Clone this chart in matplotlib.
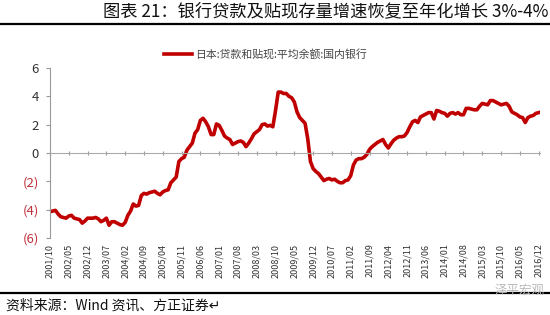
import matplotlib.pyplot as plt

plt.rcParams['font.family'] = ['Noto Sans CJK SC', 'DejaVu Sans']

# 日本:贷款和贴现:平均余额:国内银行, 同比(%), 2001/10 - 2016/12 月度
start = (2001, 10)
vals_2001 = [-4.14, -4.1, -4.05]
vals_2002 = [-4.3, -4.5, -4.55, -4.6, -4.45, -4.4, -4.6, -4.65, -4.7, -4.95, -4.8, -4.6]
vals_2003 = [-4.6, -4.6, -4.55, -4.65, -4.85, -4.75, -4.6, -5.1, -4.85, -4.85, -4.95, -5.05]
vals_2004 = [-5.1, -4.9, -4.4, -4.1, -3.6, -3.75, -3.7, -3.0, -2.85, -2.9, -2.8, -2.75]
vals_2005 = [-2.7, -2.85, -2.95, -2.75, -2.65, -2.6, -2.1, -1.9, -1.7, -0.6, -0.4, -0.3]
vals_2006 = [0.2, 0.45, 0.7, 1.4, 1.65, 2.3, 2.45, 2.2, 1.85, 1.3, 1.3, 2.05]
vals_2007 = [1.95, 1.6, 1.2, 1.05, 0.95, 0.6, 0.7, 0.8, 0.85, 0.75, 0.45, 0.7]
vals_2008 = [1.0, 1.35, 1.5, 1.65, 2.0, 2.05, 1.9, 1.95, 1.85, 3.0, 4.3, 4.3]
vals_2009 = [4.2, 4.2, 4.0, 3.9, 3.6, 2.9, 2.5, 2.3, 2.1, 1.0, -0.6, -1.1]
vals_2010 = [-1.3, -1.45, -1.7, -1.95, -1.85, -1.8, -1.9, -1.85, -2.0, -2.1, -2.1, -1.95]
vals_2011 = [-1.9, -1.6, -0.85, -0.5, -0.4, -0.4, -0.3, -0.1, 0.25, 0.45, 0.6, 0.75]
vals_2012 = [0.85, 0.95, 0.6, 0.35, 0.65, 0.9, 1.05, 1.15, 1.15, 1.2, 1.45, 1.85]
vals_2013 = [2.2, 2.3, 2.15, 2.55, 2.65, 2.75, 2.85, 2.85, 2.4, 3.0, 2.95, 2.85]
vals_2014 = [2.8, 2.6, 2.8, 2.85, 2.75, 2.85, 2.7, 2.7, 3.15, 3.15, 3.1, 3.05]
vals_2015 = [3.05, 3.3, 3.5, 3.45, 3.4, 3.7, 3.7, 3.6, 3.5, 3.4, 3.45, 3.5]
vals_2016 = [3.3, 2.9, 2.8, 2.7, 2.55, 2.5, 2.15, 2.5, 2.6, 2.65, 2.8, 2.85]

y_ticks = [6, 4, 2, 0, -2, -4, -6]
y_labels = ['6', '4', '2', '0', '(2)', '(4)', '(6)']

series = (vals_2001 + vals_2002 + vals_2003 + vals_2004 + vals_2005 + vals_2006
          + vals_2007 + vals_2008 + vals_2009 + vals_2010 + vals_2011 + vals_2012
          + vals_2013 + vals_2014 + vals_2015 + vals_2016)

months = []
y, m = start
for _ in series:
    months.append('%d/%02d' % (y, m))
    m += 1
    if m > 12:
        y, m = y + 1, 1
x = list(range(len(series)))
tick_idx = x[::7]
tick_lab = [months[i] for i in tick_idx]

fig = plt.figure(figsize=(5.5, 3.15), dpi=100)
ax = fig.add_axes([50 / 550, 1 - 238 / 315, 490 / 550, 170 / 315])

ax.plot(x, series, color='#C00000', lw=2.6, label='日本:贷款和贴现:平均余额:国内银行')
ax.set_xlim(0, 182.5)
ax.set_ylim(-6, 6)

ax.set_yticks(y_ticks)
ax.set_yticklabels(y_labels, fontsize=9.5)
for t, v in zip(ax.get_yticklabels(), y_ticks):
    t.set_color('#C0303A' if v < 0 else '#333333')
ax.tick_params(axis='y', length=3, color='#999999', pad=5)

# x轴在0处，刻度标签放在底部
ax.spines['top'].set_visible(False)
ax.spines['right'].set_visible(False)
ax.spines['left'].set_color('#999999')
ax.spines['bottom'].set_position(('data', 0))
ax.spines['bottom'].set_color('#aaaaaa')
ax.set_xticks(tick_idx)
ax.tick_params(axis='x', length=3, direction='inout', color='#999999', labelbottom=False)

sec = ax.secondary_xaxis('bottom')
sec.set_xticks(tick_idx)
sec.set_xticklabels(tick_lab, rotation=90, fontsize=6.5, color='#333333')
sec.tick_params(length=0, pad=4)
sec.spines['bottom'].set_visible(False)

leg = ax.legend(loc='upper center', bbox_to_anchor=(0.44, 1.17), frameon=False,
                fontsize=7.8, handlelength=2.6, handletextpad=0.3)
for t in leg.get_texts():
    t.set_color('#444444')

# 标题与上下分隔线
fig.text(0.997, 1 - 11 / 315, '图表 21：银行贷款及贴现存量增速恢复至年化增长 3%-4%',
         ha='right', va='center', fontsize=12.4, color='#111111')
fig.add_artist(plt.Line2D([0, 1], [1 - 24 / 315, 1 - 24 / 315], color='black', lw=1.6))
fig.add_artist(plt.Line2D([0, 1], [1 - 293 / 315, 1 - 293 / 315], color='black', lw=1.6))
fig.text(0.01, 1 - 306 / 315, '资料来源：Wind 资讯、方正证券↵', ha='left', va='center',
         fontsize=10, style='italic', color='#111111')
fig.text(0.99, 1 - 290 / 315, '泽平宏观', ha='right', va='center', fontsize=9,
         color='#bbbbbb')

fig.savefig('out.png', dpi=100)
